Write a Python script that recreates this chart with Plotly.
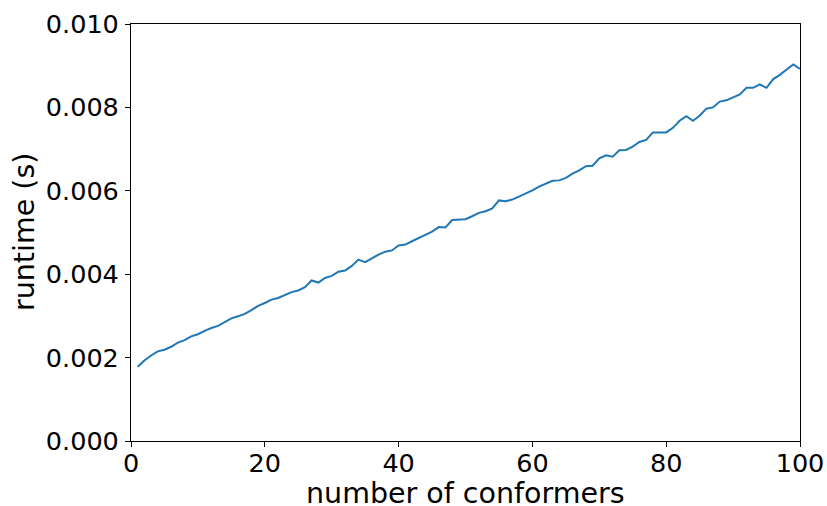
import plotly.graph_objects as go

n_conformers = list(range(1, 101))
runtime = [
    0.00178, 0.00193, 0.00205, 0.00215, 0.00219, 0.00226, 0.00236, 0.00242, 0.00251, 0.00256,
    0.00264, 0.00271, 0.00276, 0.00284, 0.00294, 0.00299, 0.00305, 0.00314, 0.00324, 0.00331,
    0.00339, 0.00343, 0.00350, 0.00357, 0.00361, 0.00369, 0.00385, 0.00380, 0.00391, 0.00396,
    0.00406, 0.00409, 0.00420, 0.00435, 0.00429, 0.00439, 0.00447, 0.00454, 0.00457, 0.00469,
    0.00471, 0.00479, 0.00487, 0.00495, 0.00502, 0.00513, 0.00512, 0.00530, 0.00531, 0.00532,
    0.00539, 0.00547, 0.00551, 0.00558, 0.00577, 0.00575, 0.00579, 0.00586, 0.00594, 0.00601,
    0.00610, 0.00617, 0.00624, 0.00625, 0.00631, 0.00641, 0.00649, 0.00659, 0.00660, 0.00678,
    0.00685, 0.00682, 0.00697, 0.00698, 0.00706, 0.00717, 0.00722, 0.00740, 0.00740, 0.00740,
    0.00751, 0.00768, 0.00779, 0.00768, 0.00780, 0.00797, 0.00800, 0.00814, 0.00817, 0.00824,
    0.00831, 0.00847, 0.00847, 0.00855, 0.00847, 0.00868, 0.00878, 0.00891, 0.00903, 0.00892,
]
x_ticks = [0, 20, 40, 60, 80, 100]
y_ticks = [0.000, 0.002, 0.004, 0.006, 0.008, 0.010]
x_title = "number of conformers"
y_title = "runtime (s)"

fig = go.Figure()
fig.add_trace(go.Scatter(
    x=n_conformers, y=runtime, mode="lines",
    line=dict(color="#1f77b4", width=2),
    showlegend=False,
))

tick_font = dict(family="DejaVu Sans", size=25.5, color="black")
title_font = dict(family="DejaVu Sans", size=28.5, color="black")
axis_common = dict(
    showline=True, linecolor="black", linewidth=1.1, mirror=True,
    ticks="outside", ticklen=5, tickwidth=1.1, tickcolor="black",
    showgrid=False, zeroline=False, tickfont=tick_font, automargin=False,
)
fig.update_layout(
    width=827, height=506,
    margin=dict(l=131, r=27, t=24, b=65),
    paper_bgcolor="white", plot_bgcolor="white",
    font=tick_font,
    xaxis=dict(range=[0, 100], tickvals=x_ticks, ticktext=[str(v) for v in x_ticks],
               ticklabelstandoff=-6, **axis_common),
    yaxis=dict(range=[0, 0.010], tickvals=y_ticks, ticktext=[f"{v:.3f}" for v in y_ticks],
               ticklabelstandoff=1, **axis_common),
    annotations=[
        dict(text=x_title, xref="paper", yref="paper", x=0.5, y=0,
             xanchor="center", yanchor="middle", yshift=-52, borderpad=0,
             showarrow=False, font=title_font),
        dict(text=y_title, xref="paper", yref="paper", x=0, y=0.5,
             xanchor="center", yanchor="middle", xshift=-106.5, textangle=-90,
             showarrow=False, font=title_font),
    ],
)
fig.write_html("out.html", config={"displayModeBar": False},
               post_script="document.body.style.margin='0';")
